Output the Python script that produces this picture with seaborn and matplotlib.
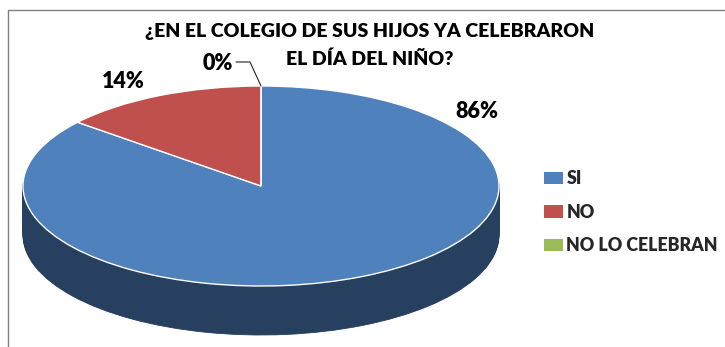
import matplotlib
matplotlib.use("Agg")
import matplotlib.pyplot as plt
from matplotlib.lines import Line2D
from matplotlib.patches import Patch
import seaborn as sns

TITLE_LINES = ["¿EN EL COLEGIO DE SUS HIJOS YA CELEBRARON", "EL DÍA DEL NIÑO?"]
CATEGORIES = ["SI", "NO", "NO LO CELEBRAN"]
PERCENTAGES = [86, 14, 0]
COLORS = ["#4F81BD", "#C0504D", "#9BBB59"]
WALL_COLOR = "#27405F"

W, H = 725, 347
CX, CY = 261, 186     # pie centre in pixels
RX, RY = 238, 100     # ellipse half-axes in pixels
DEPTH = 49            # height of the side wall in pixels

sns.set_theme(style="white")
plt.rcParams["font.family"] = ["Lato", "DejaVu Sans"]

fig = plt.figure(figsize=(W / 100, H / 100), dpi=100, facecolor="white")

# The axes are scaled so one data unit is the pie radius on each axis,
# which flattens the circle into the tilted ellipse.
ax = fig.add_axes([0, 0, 1, 1])


def pixel(x, y):
    return (x - CX) / RX, (CY - y) / RY


# Side wall: stacked copies of the pie, from the bottom up.
for offset in range(DEPTH, 0, -1):
    ax.pie(PERCENTAGES, colors=[WALL_COLOR] * 3, startangle=90, counterclock=False,
           center=(0, -offset / RY), radius=1, frame=True,
           wedgeprops=dict(edgecolor=WALL_COLOR, linewidth=0.6))

wedges, _ = ax.pie(PERCENTAGES, colors=COLORS, startangle=90, counterclock=False,
                   center=(0, 0), radius=1, frame=True,
                   wedgeprops=dict(edgecolor="white", linewidth=1.0))
ax.set_aspect("auto")
ax.set_xlim(-CX / RX, (W - CX) / RX)
ax.set_ylim(-(H - CY) / RY, CY / RY)
ax.set_xticks([])
ax.set_yticks([])
for spine in ax.spines.values():
    spine.set_visible(False)

# Chart frame
ax.add_line(Line2D(*zip(pixel(7.5, H), pixel(7.5, 9.5), pixel(W, 9.5)),
                   color="#808080", lw=1.0))

for line, y in zip(TITLE_LINES, [32, 59]):
    ax.text(*pixel(370, y), line, ha="center", va="center",
            fontsize=14, fontweight="heavy", color="black")

label_font = dict(fontsize=15.5, fontweight="heavy", color="black", ha="center", va="center")
for value, (x, y) in zip(PERCENTAGES, [(477, 112), (123, 81), (218, 64)]):
    ax.text(*pixel(x, y), f"{value}%", **label_font)

# Leader line for the empty slice
ax.add_line(Line2D(*zip(pixel(236, 62), pixel(250, 62), pixel(261, 86)),
                   color="#222222", lw=0.8))

handles = [Patch(facecolor=c, edgecolor="none") for c in COLORS]
ax.legend(handles, CATEGORIES, loc="upper left",
          bbox_to_anchor=(544 / W, 1 - 170 / H), bbox_transform=fig.transFigure,
          frameon=False, prop=dict(family="Lato", weight="heavy", size=12.8),
          handlelength=1.08, handleheight=0.7, handletextpad=0.18,
          labelspacing=0.93, borderpad=0, borderaxespad=0)

fig.savefig("out.png", dpi=100, facecolor="white")
